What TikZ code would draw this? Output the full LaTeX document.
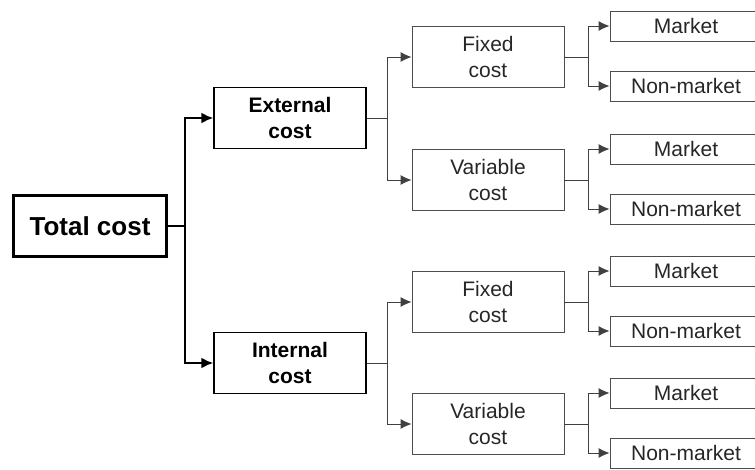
\documentclass[tikz,border=0pt]{standalone}
\usepackage{fontspec}
\setmainfont{Liberation Sans}
\usetikzlibrary{arrows.meta}

\begin{document}
\begin{tikzpicture}[x=1pt,y=-1pt,
  box/.style={draw=black!70,line width=0.9pt,minimum width=152pt,minimum height=61pt,
    align=center,text=black!85,font=\fontsize{21}{26}\selectfont},
  leaf/.style={box,minimum height=30pt},
  link/.style={draw=black!75,line width=0.9pt,-{Latex[length=11pt,width=10pt]}},
  main/.style={line width=2pt,-{Latex[length=12pt,width=11pt]}}]
  \clip (0,0) rectangle (755,470);
  \node[draw,line width=2.5pt,minimum width=153pt,minimum height=61pt,
    font=\bfseries\fontsize{26}{30}\selectfont] (total) at (90,226) {Total cost};
  \node[box,draw=black,line width=1.4pt,text=black,font=\bfseries\fontsize{21}{26}\selectfont]
    (ext) at (290,118) {External\\cost};
  \node[box,draw=black,line width=1.4pt,text=black,font=\bfseries\fontsize{21}{26}\selectfont]
    (int) at (290,363) {Internal\\cost};
  \draw[main] (total.east) -- ++(17,0) |- (ext.west);
  \draw[main] (total.east) -- ++(17,0) |- (int.west);
  \foreach \lbl/\y/\up [count=\i] in {Fixed/57/ext,Variable/180/ext,Fixed/302/int,Variable/424/int}{
    \node[box] (mid\i) at (488,\y) {\lbl\\cost};
    \node[leaf] (mkt\i) at (686,\y-31) {Market};
    \node[leaf] (non\i) at (686,\y+29) {Non-market};
    \draw[link] (\up.east) -- ++(21,0) |- (mid\i.west);
    \draw[link] (mid\i.east) -- ++(24,0) |- (mkt\i.west);
    \draw[link] (mid\i.east) -- ++(24,0) |- (non\i.west);}
\end{tikzpicture}
\end{document}
